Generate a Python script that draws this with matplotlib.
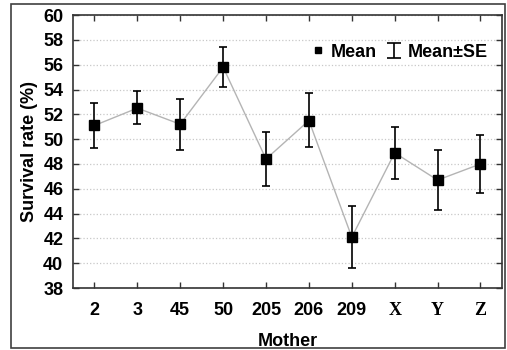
import matplotlib
matplotlib.use("Agg")
import matplotlib.pyplot as plt
from matplotlib.lines import Line2D
from matplotlib.patches import Rectangle
from matplotlib.legend_handler import HandlerErrorbar

plt.rcParams['font.family'] = ['Liberation Sans', 'DejaVu Sans']

mothers = ['2', '3', '45', '50', '205', '206', '209', 'X', 'Y', 'Z']
means = [51.1, 52.5, 51.2, 55.8, 48.4, 51.5, 42.1, 48.9, 46.7, 48.0]
se_low = [49.3, 51.2, 49.1, 54.2, 46.2, 49.4, 39.6, 46.8, 44.3, 45.7]
se_high = [52.9, 53.9, 53.2, 57.4, 50.6, 53.7, 44.6, 51.0, 49.1, 50.3]

fig = plt.figure(figsize=(5.07, 3.5), dpi=100)
ax = fig.add_axes([0.144, 0.177, 0.846, 0.780])

xs = list(range(len(mothers)))
yerr = [[m - lo for m, lo in zip(means, se_low)],
        [hi - m for m, hi in zip(means, se_high)]]

ax.plot(xs, means, color='#b4b4b4', lw=1.0, zorder=2)
ax.errorbar(xs, means, yerr=yerr, fmt='none', ecolor='black',
            elinewidth=1.2, capsize=3.2, capthick=1.2, zorder=3)
ax.plot(xs, means, 's', color='black', ms=6.5, zorder=4)

ax.set_xlim(-0.5, 9.5)
ax.set_ylim(38, 60)
ax.set_yticks(range(38, 61, 2))
ax.set_xticks(xs)
ax.set_xticklabels(mothers)
for lbl in ax.get_xticklabels():
    lbl.set_fontweight('bold')
    lbl.set_fontsize(13)
    if lbl.get_text() in ('X', 'Y', 'Z'):
        lbl.set_family('Liberation Serif')
for lbl in ax.get_yticklabels():
    lbl.set_fontweight('bold')
    lbl.set_fontsize(13)

ax.tick_params(direction='in', length=4, width=1, color='#333333',
               top=True, right=True)
ax.tick_params(axis='y', pad=7)
ax.tick_params(axis='x', pad=10)
ax.grid(axis='y', linestyle=':', color='#c8c8c8', lw=0.9)
for s in ax.spines.values():
    s.set_color('#333333')
    s.set_linewidth(1.2)

ax.set_ylabel('Survival rate (%)', fontsize=13, fontweight='bold', labelpad=4)
ax.set_xlabel('Mother', fontsize=13, fontweight='bold', labelpad=10)

# legend handles only (nan data, nothing drawn in the axes)
mean_h = Line2D([], [], marker='s', color='black', ls='none', ms=5)
se_h = ax.errorbar([float('nan')], [float('nan')], yerr=[1], fmt='none',
                   ecolor='black', elinewidth=1.2, capsize=5, capthick=1.2)
ax.legend([mean_h, se_h], ['Mean', 'Mean±SE'], loc='center right',
          bbox_to_anchor=(0.997, 0.864), ncol=2, frameon=False,
          prop={'weight': 'bold', 'size': 13}, handlelength=0.9,
          handletextpad=0.3, columnspacing=0.5, borderpad=0.2,
          handler_map={type(se_h): HandlerErrorbar(yerr_size=0.42)})

fig.patches.append(Rectangle((0.0217, 0.006), 0.974, 0.983,
                             transform=fig.transFigure, fill=False,
                             edgecolor='#404040', lw=1.2))

fig.savefig('out.png', dpi=100)
